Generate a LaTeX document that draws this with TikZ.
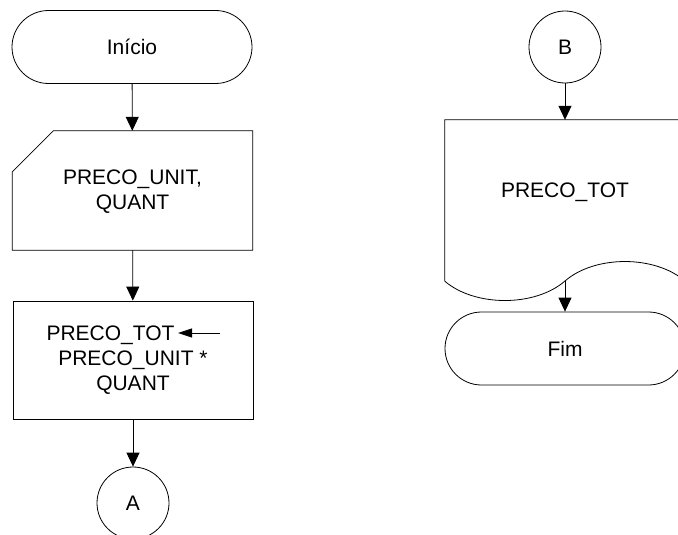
\documentclass[tikz,border=0pt]{standalone}
\usepackage{fontspec}
\setmainfont{Liberation Sans}
\usetikzlibrary{shapes.misc,arrows.meta,calc}
\tikzset{
  shapeline/.style={draw=black,line width=0.8pt},
  txt/.style={font=\fontsize{21}{25}\selectfont,align=center,inner sep=0pt},
  terminal/.style={rounded rectangle,shapeline,minimum width=240pt,minimum height=73pt,txt},
  connector/.style={circle,shapeline,minimum size=72pt,txt},
  procbox/.style={rectangle,shapeline,minimum width=240pt,minimum height=118pt,txt},
  shapearea/.style={rectangle,inner sep=0pt,minimum width=240pt},
  flow/.style={draw=black,line width=0.8pt,-{Triangle[length=14pt,width=13pt]}},
}
\begin{document}
\begin{tikzpicture}[x=1pt,y=-1pt]
\useasboundingbox (0,0) rectangle (678,535);
\clip (0,0) rectangle (678,535);
% left column
\node[terminal] (inicio) at (132,47) {Início};
\node[shapearea,minimum height=119pt] (entrada) at (132.5,190.5) {};
\draw[shapeline] (entrada.south west) -- ([yshift=-41pt]entrada.north west) -- ([xshift=41pt]entrada.north west) -- (entrada.north east) -- (entrada.south east) -- cycle;
\node[txt] (entradatxt) at (132.5,192) {PRECO\_UNIT,\\QUANT};
\node[procbox] (proc) at (133,360) {PRECO\_TOT\makebox[45pt]{}\\PRECO\_UNIT *\\QUANT};
\coordinate (atribS) at (220,333);
\coordinate (atribE) at (178,333);
\draw[draw=black,line width=0.8pt,-{Triangle[length=14pt,width=9pt]}] (atribS) -- (atribE);
\node[connector] (A) at (133,503) {A};
\draw[flow] (inicio) -- (entrada);
\draw[flow] (entrada) -- (proc);
\draw[flow] (proc) -- (A);
% right column
\node[connector] (B) at (565,47) {B};
\node[shapearea,minimum height=161pt] (doc) at (565,200.5) {};
\draw[shapeline] (doc.south west) -- (doc.north west) -- (doc.north east) -- (doc.south east)
  .. controls (655,255) and (595,255) .. (565,281)
  .. controls (535,307) and (475,307) .. (doc.south west);
\node[txt] (doctxt) at (565,192) {PRECO\_TOT};
\node[terminal] (fim) at (565,348.5) {Fim};
\draw[flow] (B) -- (doc);
\draw[flow] (doc) -- (fim);
\end{tikzpicture}
\end{document}
